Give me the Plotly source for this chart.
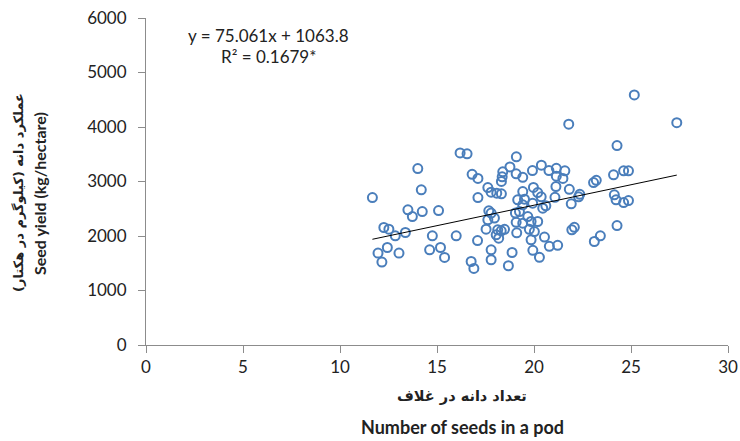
import plotly.graph_objects as go

# Number of seeds in a pod (x) and seed yield kg/ha (y)
seeds = [11.67, 11.96, 12.16, 12.26, 12.52, 12.44, 12.85, 13.04, 13.37, 13.50,
         13.73, 14.01, 14.19, 14.24, 14.62, 14.76, 15.08, 15.18, 15.39, 15.99,
         16.19, 16.55, 16.81, 17.11, 17.11, 17.09, 16.76, 16.90,
         17.62, 17.79, 18.08, 18.32, 18.39, 18.36, 18.32, 18.76, 19.09, 19.08,
         19.42, 19.92, 20.38, 20.77, 21.15, 21.59, 21.15, 21.49, 21.13, 21.82,
         22.36, 21.92, 23.07, 23.21, 17.67, 17.79, 17.62, 17.96, 17.53, 18.13,
         18.31, 18.48, 18.18,
         17.79, 17.79, 18.87, 18.68, 19.04, 19.08, 19.11, 19.42, 19.97, 20.19,
         20.37, 19.16, 19.51, 21.08, 19.93, 20.45, 20.61, 19.25, 19.68, 19.42,
         19.85, 20.19, 20.02, 19.76, 21.95, 22.08, 20.54, 21.22, 20.79, 19.85,
         19.94, 20.28,
         23.11, 23.42, 24.28, 25.17, 21.79, 27.36, 24.28, 24.10, 24.62, 24.87,
         24.14, 24.23, 24.62, 24.87, 22.30, 18.05, 19.42]
yield_kg = [2706, 1686, 1521, 2156, 2126, 1789, 2003, 1686, 2064, 2480,
            2357, 3237, 2847, 2449, 1747, 2003, 2467, 1789, 1606, 2003,
            3525, 3507, 3131, 3057, 2706, 1917, 1532, 1404,
            2889, 2804, 2786, 2773, 3177, 3085, 3002, 3268, 3452, 3140,
            3076, 3200, 3299, 3200, 3241, 3195, 3098, 3057, 2907, 2856,
            2764, 2590, 2980, 3021, 2462, 2420, 2297, 2328, 2126, 2113,
            2095, 2123, 1961,
            1747, 1564, 1697, 1454, 2420, 2251, 2058, 2816, 2892, 2797,
            2718, 2663, 2676, 2709, 2603, 2511, 2553, 2449, 2357, 2236,
            2266, 2266, 2082, 2123, 2113, 2159, 1980, 1829, 1811, 1930,
            1738, 1609,
            1899, 2003, 2192, 4588, 4051, 4080, 3659, 3122, 3195, 3195,
            2755, 2663, 2614, 2651, 2718, 2022, 2572]

slope = 75.061
intercept = 1063.8
eq_text = "y = 75.061x + 1063.8"
r2_text = "R² = 0.1679*"

x_ticks = [0, 5, 10, 15, 20, 25, 30]
y_ticks = [0, 1000, 2000, 3000, 4000, 5000, 6000]

x_title_fa = "تعداد دانه در غلاف"
x_title_en = "Number of seeds in a pod"
y_title_fa = "عملکرد دانه (کیلوگرم در هکتار)"
y_title_en = "Seed yield (kg/hectare)"

W, H = 740, 441
L, R, T, B = 146, 12, 18, 96

fig = go.Figure()
fig.add_trace(go.Scatter(
    x=seeds, y=yield_kg, mode="markers",
    marker=dict(symbol="circle-open", size=9, color="#4A7EBB",
                line=dict(width=2, color="#4A7EBB")),
    showlegend=False, hoverinfo="x+y"))

xmin, xmax = min(seeds), max(seeds)
fig.add_trace(go.Scatter(
    x=[xmin, xmax], y=[slope * xmin + intercept, slope * xmax + intercept],
    mode="lines", line=dict(color="black", width=1), showlegend=False,
    hoverinfo="skip"))

axis_common = dict(showgrid=False, zeroline=False, showline=True,
                   automargin=False,
                   linecolor="#8c8c8c", linewidth=1, ticks="outside",
                   ticklen=7, tickcolor="#8c8c8c",
                   tickfont=dict(family="Lato", size=17, color="#222222"))

fig.update_xaxes(range=[0, 30], tickvals=x_ticks, ticklabelstandoff=0,
                 **axis_common)
fig.update_yaxes(range=[0, 6000], tickvals=y_ticks, ticklabelstandoff=8,
                 **axis_common)

ph = H - T - B
pw = W - L - R
ann = []
ann.append(dict(text=eq_text, xref="paper", yref="paper",
                x=(268 - L) / pw, y=(H - B - 35) / ph, showarrow=False,
                font=dict(family="Lato", size=17, color="#222222"),
                xanchor="center", yanchor="middle"))
ann.append(dict(text=r2_text, xref="paper", yref="paper",
                x=(268 - L) / pw, y=(H - B - 57) / ph, showarrow=False,
                font=dict(family="Lato", size=17, color="#222222"),
                xanchor="center", yanchor="middle"))
ann.append(dict(text="<b>" + x_title_fa + "</b>", xref="paper", yref="paper",
                x=(462 - L) / pw, y=(H - B - 396) / ph, showarrow=False,
                font=dict(family="DejaVu Sans", size=14.5, color="#222222"),
                xanchor="center", yanchor="middle"))
ann.append(dict(text="<b>" + x_title_en + "</b>", xref="paper", yref="paper",
                x=(462 - L) / pw, y=(H - B - 427) / ph, showarrow=False,
                font=dict(family="Lato", size=18, color="#222222"),
                xanchor="center", yanchor="middle"))
ann.append(dict(text="<b>" + y_title_fa + "</b>", xref="paper", yref="paper",
                x=(19 - L) / pw, y=(H - B - 193) / ph, showarrow=False,
                textangle=-90,
                font=dict(family="DejaVu Sans", size=13, color="#222222"),
                xanchor="center", yanchor="middle"))
ann.append(dict(text="<b>" + y_title_en + "</b>", xref="paper", yref="paper",
                x=(39 - L) / pw, y=(H - B - 193) / ph, showarrow=False,
                textangle=-90,
                font=dict(family="Lato", size=16, color="#222222"),
                xanchor="center", yanchor="middle"))

fig.update_layout(width=W, height=H, margin=dict(l=L, r=R, t=T, b=B),
                  paper_bgcolor="white", plot_bgcolor="white",
                  annotations=ann)

fig.write_html("out.html", config={"displayModeBar": False},
               post_script="document.body.style.margin='0';"
                           "document.body.style.padding='0';")
